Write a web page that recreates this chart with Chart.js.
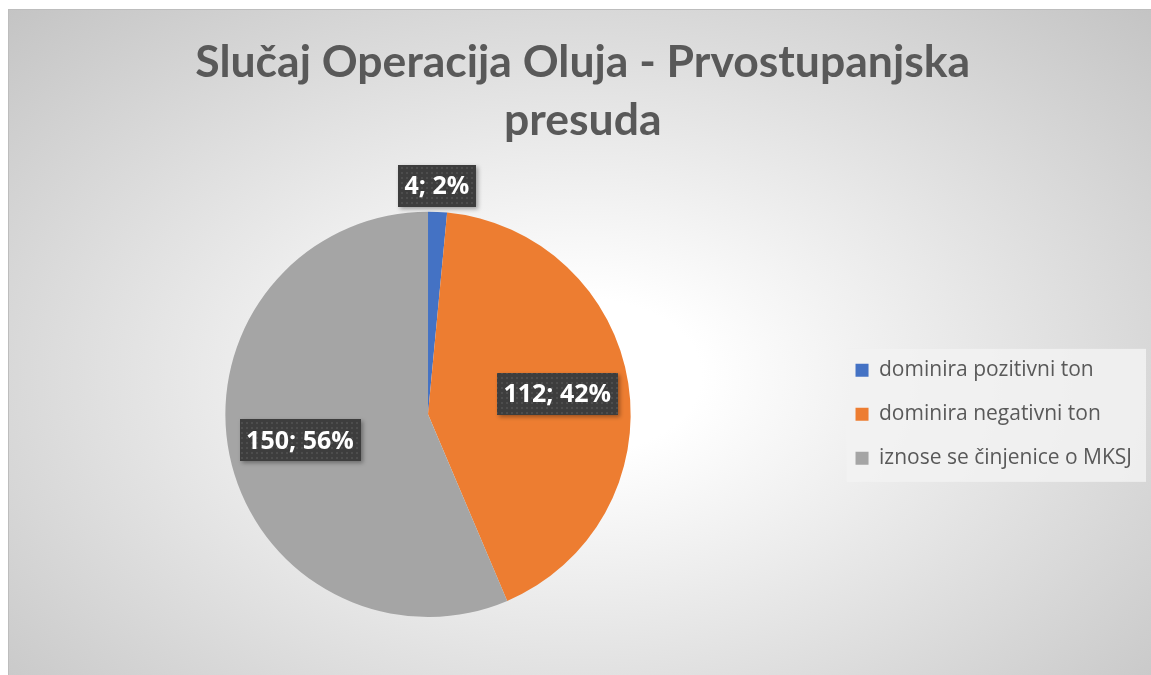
<!DOCTYPE html>
<html>
<head>
<meta charset="utf-8">
<title>Slučaj Operacija Oluja - Prvostupanjska presuda</title>
<script src="https://cdn.jsdelivr.net/npm/chart.js@4.4.1/dist/chart.umd.min.js"></script>
<style>
  html, body { margin: 0; padding: 0; background: #fff; }
  #okvir {
    position: absolute; left: 8px; top: 9px; width: 1143px; height: 666px;
    box-sizing: border-box;
    border-top: 1px solid #bdbdbd; border-left: 1px solid #bdbdbd;
    background: radial-gradient(ellipse farthest-corner at 50% 55%, #ffffff 0%, #ffffff 15%, #c4c4c4 100%);
  }
  canvas { display: block; }
</style>
</head>
<body>
<div id="okvir"><canvas id="graf"></canvas></div>
<script>
// Podaci
const naslov = ['Slučaj Operacija Oluja - Prvostupanjska', 'presuda'];
const kategorije = ['dominira pozitivni ton', 'dominira negativni ton', 'iznose se činjenice o MKSJ'];
const vrijednosti = [4, 112, 150];
const boje = ['#4472C4', '#ED7D31', '#A5A5A5'];

const ukupno = vrijednosti.reduce((s, v) => s + v, 0);

// tamna podloga s točkicama za oznake
function napraviUzorak(ctx) {
  const c = document.createElement('canvas');
  c.width = 5; c.height = 5;
  const g = c.getContext('2d');
  g.fillStyle = '#3d3d3d';
  g.fillRect(0, 0, 5, 5);
  g.fillStyle = '#4d4d4d';
  g.fillRect(2, 2, 2, 2);
  return ctx.createPattern(c, 'repeat');
}

// pozadina legende
const legendaPozadina = {
  id: 'legendaPozadina',
  beforeDraw(chart) {
    const lg = chart.legend;
    if (!lg || !lg.legendHitBoxes || !lg.legendHitBoxes.length) return;
    const hb = lg.legendHitBoxes;
    const x0 = hb[0].left - 9;
    const y0 = hb[0].top - 11;
    const y1 = hb[hb.length - 1].top + hb[hb.length - 1].height + 13;
    const x1 = Math.max(...hb.map((b) => b.left + b.width)) + 14;
    const ctx = chart.ctx;
    ctx.save();
    ctx.fillStyle = 'rgba(242,242,242,0.85)';
    ctx.fillRect(x0, y0, x1 - x0, y1 - y0);
    ctx.restore();
  }
};

// oznake "vrijednost; postotak"
let uzorak = null;
const oznake = {
  id: 'oznake',
  afterDatasetsDraw(chart) {
    const ctx = chart.ctx;
    if (!uzorak) uzorak = napraviUzorak(ctx);
    const meta = chart.getDatasetMeta(0);
    ctx.save();
    ctx.font = 'bold 25px "Open Sans"';
    ctx.textAlign = 'center';
    ctx.textBaseline = 'middle';
    meta.data.forEach((arc, i) => {
      const p = arc.getProps(['x', 'y', 'startAngle', 'endAngle', 'outerRadius'], true);
      const mid = (p.startAngle + p.endAngle) / 2;
      const udio = vrijednosti[i] / ukupno;
      const mali = udio < 0.05;
      const f = mali ? 1.13 : 0.645;
      const cx = p.x + Math.cos(mid) * p.outerRadius * f - (mali ? 2 : 0);
      const cy = p.y + Math.sin(mid) * p.outerRadius * f;
      const txt = `${vrijednosti[i]}; ${Math.round(udio * 100)}%`;
      const w = ctx.measureText(txt).width + 13;
      const h = 42;
      ctx.save();
      ctx.shadowColor = 'rgba(0,0,0,0.35)';
      ctx.shadowBlur = 4;
      ctx.shadowOffsetX = 2;
      ctx.shadowOffsetY = 2;
      ctx.fillStyle = uzorak;
      ctx.fillRect(Math.round(cx - w / 2), Math.round(cy - h / 2), Math.round(w), h);
      ctx.restore();
      ctx.fillStyle = '#ffffff';
      ctx.fillText(txt, cx, cy + 1);
    });
    ctx.restore();
  }
};

new Chart(document.getElementById('graf'), {
  type: 'pie',
  data: {
    labels: kategorije,
    datasets: [{
      data: vrijednosti,
      backgroundColor: boje,
      borderWidth: 0,
      hoverOffset: 0
    }]
  },
  options: {
    responsive: true,
    maintainAspectRatio: false,
    animation: false,
    layout: { padding: { left: 14.5, right: 9, bottom: 58 } },
    plugins: {
      title: {
        display: true,
        text: naslov,
        color: '#595959',
        font: { family: 'Lato', size: 44.5, weight: 'bold', lineHeight: 1.3 },
        padding: { top: 24, bottom: 62 }
      },
      legend: {
        position: 'right',
        fullSize: false,
        labels: {
          color: '#595959',
          font: { family: '"Open Sans"', size: 21 },
          boxWidth: 13,
          boxHeight: 13,
          padding: 23
        }
      },
      tooltip: { enabled: false }
    }
  },
  plugins: [legendaPozadina, oznake]
});
</script>
</body>
</html>
